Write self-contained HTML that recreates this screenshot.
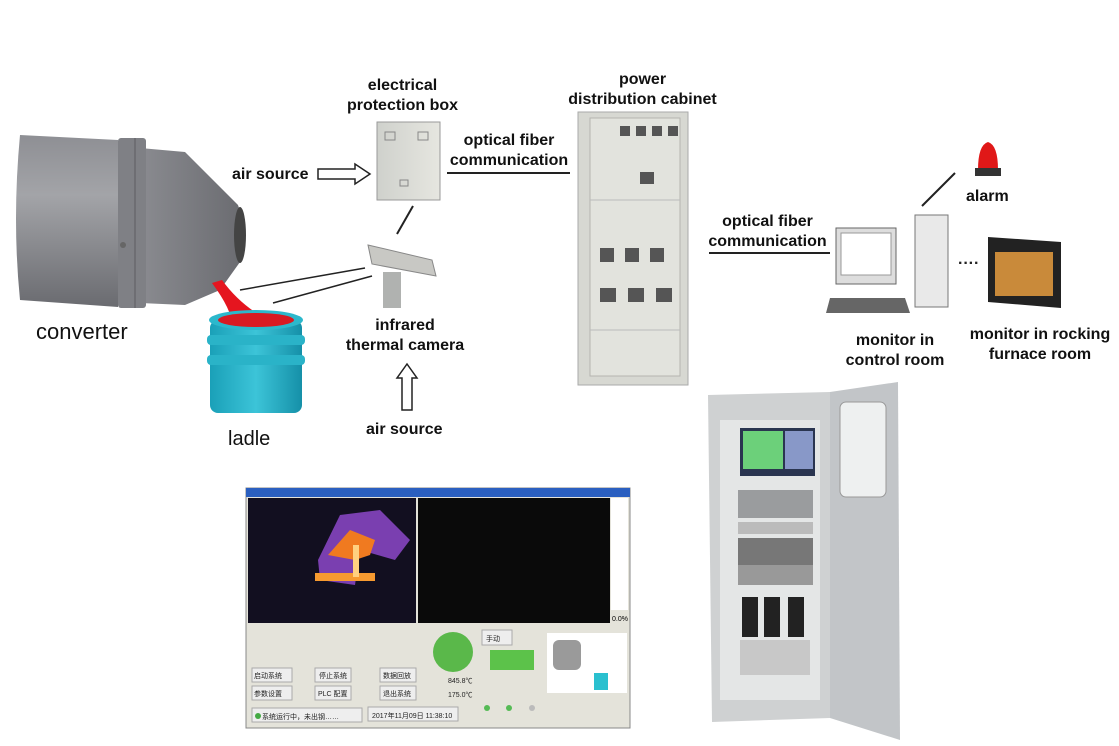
<!DOCTYPE html>
<html><head><meta charset="utf-8"><style>
body{margin:0;width:1119px;height:746px;background:#fff;position:relative;overflow:hidden;font-family:"Liberation Sans","Noto Sans CJK SC",sans-serif}
.t{position:absolute;font-weight:bold;font-size:16px;color:#111;text-align:center;line-height:20px;white-space:nowrap}
.a{position:absolute}
</style></head><body>
<svg class="a" style="left:0;top:0" width="1119" height="746">
<defs>
<linearGradient id="g1" x1="0" y1="0" x2="0" y2="1"><stop offset="0" stop-color="#8e8f94"/><stop offset=".35" stop-color="#a3a4a8"/><stop offset="1" stop-color="#6a6b70"/></linearGradient>
<linearGradient id="gc" x1="0" y1="0" x2="1" y2="0"><stop offset="0" stop-color="#8a8b90"/><stop offset="1" stop-color="#6a6b70"/></linearGradient>
<linearGradient id="g2" x1="0" y1="0" x2="1" y2="0"><stop offset="0" stop-color="#1aa0b8"/><stop offset=".5" stop-color="#3cc4d8"/><stop offset="1" stop-color="#1590a8"/></linearGradient>
<linearGradient id="g3" x1="0" y1="0" x2="1" y2="0"><stop offset="0" stop-color="#cfd1cc"/><stop offset="1" stop-color="#e6e6e0"/></linearGradient>
</defs>
<!-- converter -->
<path d="M140 148 L185 152 L238 205 Q248 230 240 262 L220 290 L185 305 L140 303 Z" fill="url(#gc)"/>
<ellipse cx="240" cy="235" rx="6" ry="28" fill="#444"/>
<rect x="118" y="138" width="28" height="170" rx="3" fill="#7f8085"/>
<line x1="135" y1="138" x2="135" y2="308" stroke="#5c5d61"/>
<path d="M20 135 L118 140 L118 307 L20 300 Q12 220 20 135 Z" fill="url(#g1)"/>
<circle cx="123" cy="245" r="3" fill="#666"/>
<path d="M212 283 Q232 310 232 325 L268 320 Q240 305 222 280 Z" fill="#e5151f"/>
<!-- ladle -->
<rect x="210" y="320" width="92" height="93" rx="8" fill="url(#g2)"/>
<rect x="207" y="335" width="98" height="10" rx="4" fill="#2ab3c8"/>
<rect x="207" y="355" width="98" height="10" rx="4" fill="#2ab3c8"/>
<ellipse cx="256" cy="320" rx="47" ry="10" fill="#2cb8cc"/>
<ellipse cx="256" cy="320" rx="38" ry="7" fill="#d81a22"/>
<line x1="240" y1="290" x2="365" y2="268" stroke="#222" stroke-width="1.5"/>
<line x1="273" y1="303" x2="372" y2="276" stroke="#222" stroke-width="1.5"/>
<!-- arrows -->
<path d="M318 169 L355 169 L355 164 L370 174 L355 184 L355 179 L318 179 Z" fill="#fff" stroke="#222" stroke-width="1.5"/>
<path d="M402 410 L402 378 L397 378 L407 364 L417 378 L412 378 L412 410 Z" fill="#fff" stroke="#222" stroke-width="1.5"/>
<!-- box -->
<rect x="377" y="122" width="63" height="78" fill="url(#g3)" stroke="#999"/>
<rect x="385" y="132" width="10" height="8" fill="none" stroke="#888"/><rect x="418" y="132" width="10" height="8" fill="none" stroke="#888"/>
<rect x="400" y="180" width="8" height="6" fill="none" stroke="#888"/>
<line x1="413" y1="206" x2="397" y2="234" stroke="#222" stroke-width="2"/>
<!-- camera -->
<path d="M368 245 L432 260 L436 276 L372 264 Z" fill="#c8c8c4" stroke="#888"/>
<rect x="383" y="272" width="18" height="36" fill="#b0b2b0"/>
<!-- fiber lines -->
<line x1="447" y1="173" x2="570" y2="173" stroke="#222" stroke-width="2"/>
<line x1="709" y1="253" x2="830" y2="253" stroke="#222" stroke-width="2"/>
<!-- cabinet -->
<rect x="578" y="112" width="110" height="273" fill="#d7d8d2" stroke="#aaa"/>
<rect x="590" y="118" width="90" height="258" fill="#e2e3dd" stroke="#b5b5b0"/>
<g fill="#555"><rect x="620" y="126" width="10" height="10"/><rect x="636" y="126" width="10" height="10"/><rect x="652" y="126" width="10" height="10"/><rect x="668" y="126" width="10" height="10"/>
<rect x="600" y="248" width="14" height="14"/><rect x="625" y="248" width="14" height="14"/><rect x="650" y="248" width="14" height="14"/>
<rect x="600" y="288" width="16" height="14"/><rect x="628" y="288" width="16" height="14"/><rect x="656" y="288" width="16" height="14"/>
<rect x="640" y="172" width="14" height="12"/></g>
<line x1="590" y1="200" x2="680" y2="200" stroke="#bbb"/><line x1="590" y1="330" x2="680" y2="330" stroke="#bbb"/>
<!-- computer -->
<rect x="836" y="228" width="60" height="56" fill="#ddd" stroke="#666"/><rect x="841" y="233" width="50" height="42" fill="#fff" stroke="#999"/>
<rect x="915" y="215" width="33" height="92" fill="#e9e9e9" stroke="#777"/>
<path d="M830 298 L905 298 L910 313 L826 313 Z" fill="#666"/>
<line x1="922" y1="206" x2="955" y2="173" stroke="#222" stroke-width="2"/>
<path d="M978 170 Q978 145 988 142 Q998 145 998 170 Z" fill="#e01818"/><rect x="975" y="168" width="26" height="8" fill="#333"/>
<text x="958" y="268" font-size="16" font-weight="bold" fill="#222">····</text>
<path d="M988 237 L1061 242 L1061 308 L988 302 Z" fill="#222"/>
<rect x="995" y="252" width="58" height="44" fill="#c98a3a"/>
<!-- big cabinet -->
<path d="M708 395 L830 392 L830 718 L712 722 Z" fill="#cfd1d2"/>
<rect x="720" y="420" width="100" height="280" fill="#e4e6e6"/>
<path d="M830 392 L898 382 L900 740 L830 718 Z" fill="#c2c5c8"/>
<rect x="840" y="402" width="46" height="95" rx="6" fill="#eef0f0" stroke="#999"/>
<rect x="740" y="428" width="75" height="48" fill="#2a3550"/><rect x="743" y="431" width="40" height="38" fill="#6cd07a"/><rect x="785" y="431" width="28" height="38" fill="#8898c8"/>
<rect x="738" y="490" width="75" height="28" fill="#9a9c9e"/><rect x="738" y="522" width="75" height="12" fill="#bbb"/>
<rect x="738" y="538" width="75" height="30" fill="#777"/><rect x="738" y="565" width="75" height="20" fill="#999"/>
<rect x="742" y="597" width="16" height="40" fill="#222"/><rect x="764" y="597" width="16" height="40" fill="#222"/><rect x="788" y="597" width="16" height="40" fill="#222"/>
<rect x="740" y="640" width="70" height="35" fill="#c8c8c8"/>
<!-- software -->
<rect x="246" y="488" width="384" height="240" fill="#e4e3da" stroke="#888"/>
<rect x="246" y="488" width="384" height="9" fill="#2a5fc0"/>
<rect x="248" y="498" width="168" height="125" fill="#120f20"/>
<path d="M318 560 L340 515 L380 510 L410 540 L395 560 L360 550 L355 585 L320 580 Z" fill="#7a3fb0"/>
<path d="M328 555 L350 530 L375 540 L370 555 L355 560 Z" fill="#f07a20"/>
<rect x="315" y="573" width="60" height="8" fill="#f79a30"/><rect x="353" y="545" width="6" height="32" fill="#ffd080"/>
<rect x="418" y="498" width="192" height="125" fill="#0a0a0a"/>
<rect x="611" y="498" width="17" height="112" fill="#fff"/>
<text x="612" y="621" font-size="7" fill="#000">0.0%</text>
<rect x="433" y="632" width="40" height="40" rx="20" fill="#5ab84a"/>
<rect x="490" y="650" width="44" height="20" fill="#5cc24a"/>
<rect x="547" y="633" width="80" height="60" fill="#fff"/>
<rect x="553" y="640" width="28" height="30" rx="6" fill="#9a9a9a"/><rect x="594" y="673" width="14" height="17" fill="#2ac0cf"/>
<g fill="#eee" stroke="#aaa"><rect x="252" y="668" width="40" height="14"/><rect x="315" y="668" width="36" height="14"/><rect x="380" y="668" width="36" height="14"/><rect x="252" y="686" width="40" height="14"/><rect x="315" y="686" width="36" height="14"/><rect x="380" y="686" width="36" height="14"/><rect x="482" y="630" width="30" height="15"/><rect x="252" y="708" width="110" height="14"/><rect x="368" y="707" width="90" height="14"/></g>
<g font-size="7" fill="#222"><text x="254" y="678">启动系统</text><text x="319" y="678">停止系统</text><text x="383" y="678">数据回放</text><text x="254" y="696">参数设置</text><text x="318" y="696">PLC 配置</text><text x="383" y="696">退出系统</text><text x="486" y="641">手动</text><text x="262" y="719">系统运行中，未出钢……</text><text x="372" y="718">2017年11月09日 11:38:10</text><text x="448" y="683">845.8℃</text><text x="448" y="697">175.0℃</text></g>
<circle cx="258" cy="716" r="3" fill="#4a4"/><circle cx="487" cy="708" r="3" fill="#5b5"/><circle cx="509" cy="708" r="3" fill="#5b5"/><circle cx="532" cy="708" r="3" fill="#bbb"/>
</svg>
<div class="t" style="left:345px;top:76px;width:115px">electrical<br>protection box</div>
<div class="t" style="left:232px;top:165px">air source</div>
<div class="t" style="left:440px;top:131px;width:138px">optical fiber<br>communication</div>
<div class="t" style="left:560px;top:70px;width:165px">power<br>distribution cabinet</div>
<div class="t" style="left:700px;top:212px;width:135px">optical fiber<br>communication</div>
<div class="t" style="left:966px;top:187px">alarm</div>
<div class="t" style="left:840px;top:331px;width:110px">monitor in<br>control room</div>
<div class="t" style="left:965px;top:325px;width:150px">monitor in rocking<br>furnace room</div>
<div class="t" style="left:340px;top:316px;width:130px">infrared<br>thermal camera</div>
<div class="t" style="left:366px;top:420px">air source</div>
<div class="t" style="left:36px;top:319px;font-size:22px;font-weight:normal;line-height:26px">converter</div>
<div class="t" style="left:228px;top:427px;font-size:20px;font-weight:normal;line-height:24px">ladle</div>
</body></html>
